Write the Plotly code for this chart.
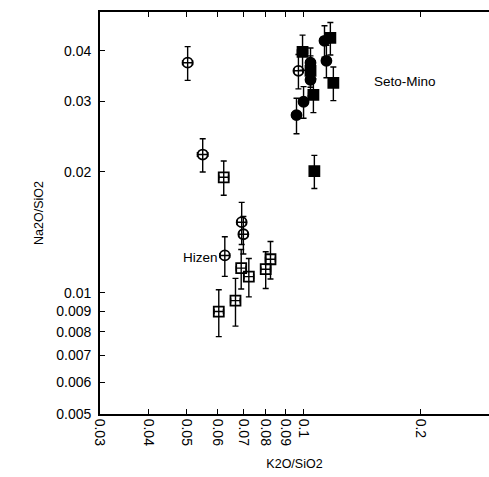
import math
import plotly.graph_objects as go

# ---- data ----
hizen_circ_x = [0.0504, 0.0551, 0.0694, 0.0701, 0.0628, 0.0971]
hizen_circ_y = [0.0374, 0.0221, 0.0150, 0.0140, 0.0124, 0.0357]
hizen_circ_xerr = [0.0015, 0.0017, 0.0019, 0.0019, 0.0018, 0.0025]
hizen_circ_yerr = [0.0036, 0.0021, 0.0018, 0.0015, 0.0014, 0.0035]

hizen_sq_x = [0.0624, 0.0692, 0.0724, 0.0823, 0.0800, 0.0669, 0.0606]
hizen_sq_y = [0.0194, 0.01153, 0.01098, 0.01213, 0.01146, 0.00957, 0.00899]
hizen_sq_xerr = [0.0018, 0.0020, 0.0021, 0.0024, 0.0023, 0.0019, 0.0017]
hizen_sq_yerr = [0.0019, 0.0013, 0.0012, 0.0013, 0.0012, 0.0013, 0.0012]

seto_circ_x = [0.1133, 0.1043, 0.1146, 0.1043, 0.1001, 0.0960]
seto_circ_y = [0.0424, 0.0374, 0.0378, 0.0339, 0.0299, 0.0277]
seto_circ_xerr = [0.0030, 0.0028, 0.0030, 0.0028, 0.0027, 0.0026]
seto_circ_yerr = [0.0038, 0.0033, 0.0035, 0.0030, 0.0027, 0.0028]

seto_sq_x = [0.1173, 0.0995, 0.1043, 0.1194, 0.1061, 0.1067]
seto_sq_y = [0.0431, 0.0398, 0.0357, 0.0333, 0.0311, 0.0201]
seto_sq_xerr = [0.0032, 0.0030, 0.0028, 0.0032, 0.0030, 0.0028]
seto_sq_yerr = [0.0040, 0.0040, 0.0032, 0.0032, 0.0030, 0.0019]

x_ticks = [0.03, 0.04, 0.05, 0.06, 0.07, 0.08, 0.09, 0.1, 0.2]
x_ticktext = ["0.03", "0.04", "0.05", "0.06", "0.07", "0.08", "0.09", "0.1", "0.2"]
y_ticks = [0.005, 0.006, 0.007, 0.008, 0.009, 0.01, 0.02, 0.03, 0.04]
y_ticktext = ["0.005", "0.006", "0.007", "0.008", "0.009", "0.01", "0.02", "0.03", "0.04"]

FONT = "Liberation Sans, Arial, sans-serif"


def trace(x, y, xe, ye, symbol):
    return go.Scatter(
        x=x, y=y, mode="markers",
        marker=dict(symbol=symbol, size=10, color="black",
                    line=dict(color="black", width=1.8)),
        error_x=dict(type="data", array=xe, color="black", thickness=1.4, width=2.5),
        error_y=dict(type="data", array=ye, color="black", thickness=1.4, width=3),
        showlegend=False,
    )


fig = go.Figure()
fig.add_trace(trace(hizen_circ_x, hizen_circ_y, hizen_circ_xerr, hizen_circ_yerr, "circle-open"))
fig.add_trace(trace(hizen_sq_x, hizen_sq_y, hizen_sq_xerr, hizen_sq_yerr, "square-open"))
fig.add_trace(trace(seto_circ_x, seto_circ_y, seto_circ_xerr, seto_circ_yerr, "circle"))
fig.add_trace(trace(seto_sq_x, seto_sq_y, seto_sq_xerr, seto_sq_yerr, "square"))

fig.add_annotation(x=math.log10(0.183), y=math.log10(0.0335), text="Seto-Mino",
                   showarrow=False, font=dict(family=FONT, size=13.5, color="black"))
fig.add_annotation(x=math.log10(0.0545), y=math.log10(0.01222), text="Hizen",
                   showarrow=False, font=dict(family=FONT, size=13.5, color="black"))

fig.update_layout(
    width=489, height=477,
    margin=dict(l=100, r=0, t=12, b=63),
    paper_bgcolor="white", plot_bgcolor="white",
    font=dict(family=FONT, size=14, color="black"),
)
fig.update_xaxes(
    type="log", range=[math.log10(0.03), math.log10(0.3)],
    tickvals=x_ticks, ticktext=x_ticktext, tickangle=90,
    tickfont=dict(size=14),
    ticks="inside", ticklen=5, tickcolor="black", tickwidth=1.2,
    showline=True, linecolor="black", linewidth=1.8, mirror="ticks",
    showgrid=False, zeroline=False,
    title=dict(text="K2O/SiO2", font=dict(size=12.5), standoff=14),
)
fig.update_yaxes(
    type="log", range=[math.log10(0.005), math.log10(0.05)],
    tickvals=y_ticks, ticktext=y_ticktext,
    tickfont=dict(size=14), ticklabelstandoff=4,
    ticks="inside", ticklen=5, tickcolor="black", tickwidth=1.2,
    showline=True, linecolor="black", linewidth=1.8, mirror=False,
    showgrid=False, zeroline=False,
    title=dict(text="Na2O/SiO2", font=dict(size=12.5), standoff=10),
)

fig.write_html("out.html")
